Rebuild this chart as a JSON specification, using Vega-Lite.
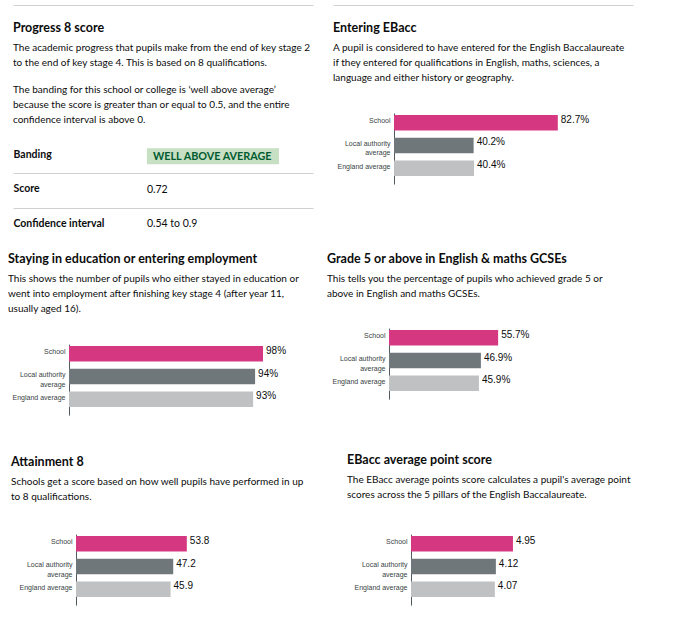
{
  "$schema": "https://vega.github.io/schema/vega-lite/v6.json",
  "padding": {"left": 8, "top": 4, "right": 5, "bottom": 5},
  "background": "white",
  "config": {
    "view": {"stroke": null},
    "title": {"font": "Lato", "fontSize": 12.5, "fontWeight": "bold", "color": "#0b0c0c", "anchor": "start", "frame": "group", "subtitleFont": "Lato", "subtitleFontSize": 10, "subtitleColor": "#0b0c0c", "subtitleLineHeight": 15, "subtitlePadding": 8.5}
  },
  "spacing": 3,
  "hconcat": [
    {
      "spacing": 16,
      "vconcat": [
        {
          "width": 244, "height": 1,
          "data": {"values": [{"line": "top"}]},
          "mark": {"type": "rule", "opacity": 0},
          "encoding": {"y": {"field": "line", "type": "nominal", "axis": {"title": null, "domain": false, "labels": false, "ticks": true, "tickSize": 56, "tickColor": "#cfd0d1", "grid": true, "gridColor": "#cfd0d1", "bandPosition": 0}}}
        },
        {
          "spacing": 40.1,
          "vconcat": [
            {
              "spacing": 10.1,
              "vconcat": [
                {
                  "spacing": 16,
                  "vconcat": [
                    {
                      "width": 244, "height": 1,
                      "title": {"text": "Progress 8 score", "subtitle": ["The academic progress that pupils make from the end of key stage 2", "to the end of key stage 4. This is based on 8 qualifications."], "dx": -56, "offset": 0},
                      "data": {"values": []},
                      "mark": "point"
                    },
                    {
                      "width": 244, "height": 103.5,
                      "title": {"text": ["The banding for this school or college is ‘well above average’", "because the score is greater than or equal to 0.5, and the entire", "confidence interval is above 0."], "fontWeight": "normal", "fontSize": 10, "lineHeight": 15, "dx": -56, "offset": 13.5},
                      "data": {"values": [
                        {"row": "Banding", "col": "value", "text": "WELL ABOVE AVERAGE", "tag": true},
                        {"row": "Score", "col": "value", "text": "0.72", "tag": false},
                        {"row": "Confidence interval", "col": "value", "text": "0.54 to 0.9", "tag": false}
                      ]},
                      "encoding": {
                        "y": {"field": "row", "type": "nominal", "scale": {"domain": ["Banding", "Score", "Confidence interval"], "paddingInner": 0, "paddingOuter": 0},
                          "axis": {"title": null, "domain": false, "ticks": true, "tickSize": 56, "tickWidth": 1,
                            "tickColor": {"condition": {"test": "datum.value === 'Banding'", "value": "transparent"}, "value": "#cfd0d1"},
                            "grid": true, "gridWidth": 1,
                            "gridColor": {"condition": {"test": "datum.value === 'Banding'", "value": "transparent"}, "value": "#cfd0d1"},
                            "bandPosition": 0, "labelAlign": "left", "labelBaseline": "middle", "labelPadding": 0, "labelOffset": -1.5,
                            "labelFont": "Lato", "labelFontWeight": "bold", "labelFontSize": 10.5, "labelColor": "#0b0c0c", "labelLimit": 0}}
                      },
                      "layer": [
                        {
                          "transform": [{"filter": "datum.tag"}],
                          "mark": {"type": "rect", "color": "#c7dfc3", "height": {"band": 0.46}},
                          "encoding": {"x": {"field": "col", "type": "nominal", "scale": {"domain": ["value"], "paddingInner": 0, "paddingOuter": 0.424, "align": 0.696}, "axis": null}}
                        },
                        {
                          "transform": [{"filter": "datum.tag"}],
                          "mark": {"type": "text", "align": "left", "baseline": "middle", "dx": 6, "dy": 0.5, "font": "Lato", "fontWeight": "bold", "fontSize": 10.8, "color": "#005a30"},
                          "encoding": {"x": {"field": "col", "type": "nominal", "bandPosition": 0}, "text": {"field": "text"}}
                        },
                        {
                          "transform": [{"filter": "!datum.tag"}],
                          "mark": {"type": "text", "align": "left", "baseline": "middle", "dy": -1, "font": "Lato", "fontSize": 10.5, "color": "#0b0c0c"},
                          "encoding": {"x": {"field": "col", "type": "nominal", "bandPosition": 0}, "text": {"field": "text"}}
                        }
                      ]
                    }
                  ]
                },
                {
                  "width": 255, "height": 71,
                  "title": {"text": "Staying in education or entering employment", "subtitle": ["This shows the number of pupils who either stayed in education or", "went into employment after finishing key stage 4 (after year 11,", "usually aged 16)."], "dx": -61, "offset": 29.9},
                  "data": {"values": [
                    {"group": "School", "value": 98, "text": "98%"},
                    {"group": "Local authority average", "value": 94, "text": "94%"},
                    {"group": "England average", "value": 93, "text": "93%"}
                  ]},
                  "encoding": {
                    "y": {"field": "group", "type": "nominal", "scale": {"domain": ["School", "Local authority average", "England average"], "paddingInner": 0.32, "paddingOuter": 0.22, "align": 0.2},
                      "axis": {"title": null, "ticks": false, "tickSize": 0, "domainColor": "#505a5f", "domainWidth": 1, "labelFont": "Liberation Sans", "labelFontSize": 7, "labelColor": "#383f43", "labelPadding": 4, "labelLimit": 0, "labelLineHeight": 9.5,
                        "labelExpr": "datum.label == 'Local authority average' ? ['Local authority', 'average'] : datum.label",
                        "labelOffset": -1.5, "offset": 0}}
                  },
                  "layer": [
                    {"mark": {"type": "bar"}, "encoding": {"x": {"field": "value", "type": "quantitative", "scale": {"domain": [0, 128.8], "nice": false, "zero": false}, "axis": null}, "x2": {"datum": 0}, "color": {"field": "group", "type": "nominal", "scale": {"domain": ["School", "Local authority average", "England average"], "range": ["#d53880", "#6f777b", "#bfc1c3"]}, "legend": null}}},
                    {"mark": {"type": "text", "align": "left", "baseline": "middle", "dx": 3, "dy": -3, "font": "Liberation Sans", "fontSize": 10, "color": "#0b0c0c"}, "encoding": {"x": {"field": "value", "type": "quantitative"}, "text": {"field": "text"}}}
                  ]
                }
              ]
            },
            {
              "width": 255, "height": 71,
              "title": {"text": "Attainment 8", "subtitle": ["Schools get a score based on how well pupils have performed in up", "to 8 qualifications."], "dx": -58, "offset": 32},
              "data": {"values": [
                {"group": "School", "value": 53.8, "text": "53.8"},
                {"group": "Local authority average", "value": 47.2, "text": "47.2"},
                {"group": "England average", "value": 45.9, "text": "45.9"}
              ]},
              "encoding": {
                "y": {"field": "group", "type": "nominal", "scale": {"domain": ["School", "Local authority average", "England average"], "paddingInner": 0.32, "paddingOuter": 0.22, "align": 0.2},
                  "axis": {"title": null, "ticks": false, "tickSize": 0, "domainColor": "#505a5f", "domainWidth": 1, "labelFont": "Liberation Sans", "labelFontSize": 7, "labelColor": "#383f43", "labelPadding": 4, "labelLimit": 0, "labelLineHeight": 9.5,
                    "labelExpr": "datum.label == 'Local authority average' ? ['Local authority', 'average'] : datum.label",
                    "labelOffset": -1.5, "offset": -7}}
              },
              "layer": [
                {"mark": {"type": "bar"}, "encoding": {"x": {"field": "value", "type": "quantitative", "scale": {"domain": [-3.4, 120.4], "nice": false, "zero": false}, "axis": null}, "x2": {"datum": 0}, "color": {"field": "group", "type": "nominal", "scale": {"domain": ["School", "Local authority average", "England average"], "range": ["#d53880", "#6f777b", "#bfc1c3"]}, "legend": null}}},
                {"mark": {"type": "text", "align": "left", "baseline": "middle", "dx": 3, "dy": -3, "font": "Liberation Sans", "fontSize": 10, "color": "#0b0c0c"}, "encoding": {"x": {"field": "value", "type": "quantitative"}, "text": {"field": "text"}}}
              ]
            }
          ]
        }
      ]
    },
    {
      "spacing": 16,
      "vconcat": [
        {
          "width": 244, "height": 1,
          "data": {"values": [{"line": "top"}]},
          "mark": {"type": "rule", "opacity": 0},
          "encoding": {"y": {"field": "line", "type": "nominal", "axis": {"title": null, "domain": false, "labels": false, "ticks": true, "tickSize": 56, "tickColor": "#cfd0d1", "grid": true, "gridColor": "#cfd0d1", "bandPosition": 0}}}
        },
        {
          "spacing": 54.1,
          "vconcat": [
            {
              "spacing": 69.1,
              "vconcat": [
                {
                  "width": 270, "height": 71,
                  "title": {"text": "Entering EBacc", "subtitle": ["A pupil is considered to have entered for the English Baccalaureate", "if they entered for qualifications in English, maths, sciences, a", "language and either history or geography."], "dx": -56, "offset": 29.9},
                  "data": {"values": [
                    {"group": "School", "value": 82.7, "text": "82.7%"},
                    {"group": "Local authority average", "value": 40.2, "text": "40.2%"},
                    {"group": "England average", "value": 40.4, "text": "40.4%"}
                  ]},
                  "encoding": {
                    "y": {"field": "group", "type": "nominal", "scale": {"domain": ["School", "Local authority average", "England average"], "paddingInner": 0.32, "paddingOuter": 0.22, "align": 0.2},
                      "axis": {"title": null, "ticks": false, "tickSize": 0, "domainColor": "#505a5f", "domainWidth": 1, "labelFont": "Liberation Sans", "labelFontSize": 7, "labelColor": "#383f43", "labelPadding": 4, "labelLimit": 0, "labelLineHeight": 9.5,
                        "labelExpr": "datum.label == 'Local authority average' ? ['Local authority', 'average'] : datum.label",
                        "labelOffset": -1.5, "offset": -5}}
                  },
                  "layer": [
                    {"mark": {"type": "bar"}, "encoding": {"x": {"field": "value", "type": "quantitative", "scale": {"domain": [-2.53, 133.8], "nice": false, "zero": false}, "axis": null}, "x2": {"datum": 0}, "color": {"field": "group", "type": "nominal", "scale": {"domain": ["School", "Local authority average", "England average"], "range": ["#d53880", "#6f777b", "#bfc1c3"]}, "legend": null}}},
                    {"mark": {"type": "text", "align": "left", "baseline": "middle", "dx": 3, "dy": -3, "font": "Liberation Sans", "fontSize": 10, "color": "#0b0c0c"}, "encoding": {"x": {"field": "value", "type": "quantitative"}, "text": {"field": "text"}}}
                  ]
                },
                {
                  "width": 270, "height": 71,
                  "title": {"text": "Grade 5 or above in English & maths GCSEs", "subtitle": ["This tells you the percentage of pupils who achieved grade 5 or", "above in English and maths GCSEs."], "dx": -62, "offset": 28.9},
                  "data": {"values": [
                    {"group": "School", "value": 55.7, "text": "55.7%"},
                    {"group": "Local authority average", "value": 46.9, "text": "46.9%"},
                    {"group": "England average", "value": 45.9, "text": "45.9%"}
                  ]},
                  "encoding": {
                    "y": {"field": "group", "type": "nominal", "scale": {"domain": ["School", "Local authority average", "England average"], "paddingInner": 0.32, "paddingOuter": 0.22, "align": 0.2},
                      "axis": {"title": null, "ticks": false, "tickSize": 0, "domainColor": "#505a5f", "domainWidth": 1, "labelFont": "Liberation Sans", "labelFontSize": 7, "labelColor": "#383f43", "labelPadding": 4, "labelLimit": 0, "labelLineHeight": 9.5,
                        "labelExpr": "datum.label == 'Local authority average' ? ['Local authority', 'average'] : datum.label",
                        "labelOffset": -1.5, "offset": 0}}
                  },
                  "layer": [
                    {"mark": {"type": "bar"}, "encoding": {"x": {"field": "value", "type": "quantitative", "scale": {"domain": [0, 137.8], "nice": false, "zero": false}, "axis": null}, "x2": {"datum": 0}, "color": {"field": "group", "type": "nominal", "scale": {"domain": ["School", "Local authority average", "England average"], "range": ["#d53880", "#6f777b", "#bfc1c3"]}, "legend": null}}},
                    {"mark": {"type": "text", "align": "left", "baseline": "middle", "dx": 3, "dy": -3, "font": "Liberation Sans", "fontSize": 10, "color": "#0b0c0c"}, "encoding": {"x": {"field": "value", "type": "quantitative"}, "text": {"field": "text"}}}
                  ]
                }
              ]
            },
            {
              "width": 270, "height": 71,
              "title": {"text": "EBacc average point score", "subtitle": ["The EBacc average points score calculates a pupil's average point", "scores across the 5 pillars of the English Baccalaureate."], "dx": -42, "offset": 33.9},
              "data": {"values": [
                {"group": "School", "value": 4.95, "text": "4.95"},
                {"group": "Local authority average", "value": 4.12, "text": "4.12"},
                {"group": "England average", "value": 4.07, "text": "4.07"}
              ]},
              "encoding": {
                "y": {"field": "group", "type": "nominal", "scale": {"domain": ["School", "Local authority average", "England average"], "paddingInner": 0.32, "paddingOuter": 0.22, "align": 0.2},
                  "axis": {"title": null, "ticks": false, "tickSize": 0, "domainColor": "#505a5f", "domainWidth": 1, "labelFont": "Liberation Sans", "labelFontSize": 7, "labelColor": "#383f43", "labelPadding": 4, "labelLimit": 0, "labelLineHeight": 9.5,
                    "labelExpr": "datum.label == 'Local authority average' ? ['Local authority', 'average'] : datum.label",
                    "labelOffset": -1.5, "offset": -22}}
              },
              "layer": [
                {"mark": {"type": "bar"}, "encoding": {"x": {"field": "value", "type": "quantitative", "scale": {"domain": [-1.068, 12.04], "nice": false, "zero": false}, "axis": null}, "x2": {"datum": 0}, "color": {"field": "group", "type": "nominal", "scale": {"domain": ["School", "Local authority average", "England average"], "range": ["#d53880", "#6f777b", "#bfc1c3"]}, "legend": null}}},
                {"mark": {"type": "text", "align": "left", "baseline": "middle", "dx": 3, "dy": -3, "font": "Liberation Sans", "fontSize": 10, "color": "#0b0c0c"}, "encoding": {"x": {"field": "value", "type": "quantitative"}, "text": {"field": "text"}}}
              ]
            }
          ]
        }
      ]
    }
  ]
}
